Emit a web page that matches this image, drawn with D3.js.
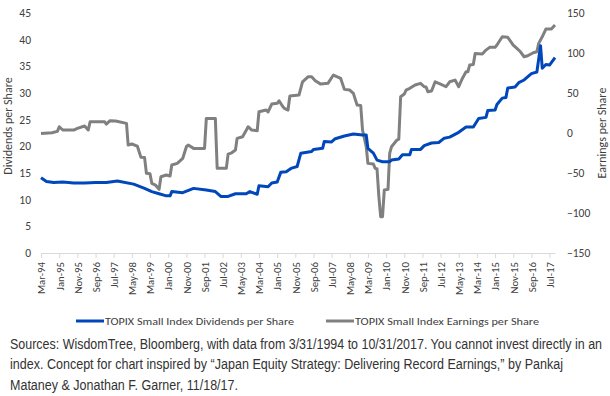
<!DOCTYPE html>
<html>
<head>
<meta charset="utf-8">
<script src="https://cdn.jsdelivr.net/npm/d3@7"></script>
<style>
  html, body { margin: 0; padding: 0; background: #fff; }
  #chart-area { width: 610px; height: 396px; }
  text { font-family: Carlito, Lato, "Open Sans", sans-serif; fill: #404040; }
  .source { font-family: "Liberation Sans", Arial, sans-serif; fill: #333; }
</style>
</head>
<body>
<div id="chart-area"></div>
<script>
// values (month, value)
const divDates = ['1994-03','1994-06','1994-10','1995-03','1995-09','1996-03','1996-09','1997-03','1997-09','1998-06','1998-12','1999-04','1999-08','1999-12','2000-02','2000-03','2000-09','2001-03','2001-10','2002-03','2002-06','2002-10','2003-02','2003-08','2003-10','2004-02','2004-03','2004-08','2004-10','2005-01','2005-03','2005-06','2005-09','2005-12','2006-02','2006-08','2006-09','2007-02','2007-03','2007-07','2007-09','2008-02','2008-07','2008-12','2009-02','2009-03','2009-06','2009-08','2009-11','2010-03','2010-04','2010-08','2010-10','2011-02','2011-03','2011-08','2011-10','2012-02','2012-06','2012-09','2012-12','2013-05','2013-09','2014-01','2014-04','2014-08','2014-09','2015-01','2015-02','2015-05','2015-07','2015-08','2015-12','2016-02','2016-05','2016-09','2016-12','2017-02','2017-03','2017-05','2017-07','2017-10'];
const divValues = [14.1,13.4,13.2,13.3,13.1,13.1,13.2,13.2,13.5,12.9,12.1,11.5,11.1,10.7,10.7,11.5,11.3,12.1,11.8,11.5,10.6,10.6,11.1,11.1,11.5,11.0,12.6,12.4,13.1,13.3,15.1,15.2,15.9,16.2,18.7,19.0,19.4,19.6,20.9,20.8,21.4,21.9,22.3,22.1,22.1,19.6,18.7,17.4,17.1,17.1,17.4,17.6,18.4,18.4,19.4,19.4,20.1,20.6,20.7,21.5,21.7,22.6,23.6,23.6,25.2,25.4,26.7,26.8,27.8,29.0,29.1,30.9,31.1,31.9,32.4,33.6,33.9,38.8,34.6,35.3,35.2,36.6];

const epsDates = ['1994-03','1994-09','1994-12','1995-01','1995-03','1995-09','1995-11','1996-03','1996-05','1996-06','1997-02','1997-03','1997-05','1997-08','1998-02','1998-03','1998-05','1998-08','1998-10','1998-12','1999-01','1999-03','1999-04','1999-06','1999-08','1999-09','1999-12','2000-02','2000-03','2000-06','2000-09','2000-11','2000-12','2001-03','2001-09','2001-10','2002-03','2002-04','2002-09','2002-10','2002-12','2003-02','2003-03','2003-06','2003-08','2003-09','2003-11','2004-02','2004-03','2004-07','2004-08','2004-10','2005-01','2005-02','2005-04','2005-05','2005-07','2005-08','2006-01','2006-03','2006-06','2006-08','2006-10','2007-01','2007-05','2007-08','2007-12','2008-02','2008-05','2008-07','2008-09','2008-11','2008-12','2009-02','2009-03','2009-06','2009-07','2009-08','2009-09','2009-10','2009-11','2009-12','2010-02','2010-03','2010-04','2010-07','2010-08','2010-09','2010-11','2010-12','2011-02','2011-05','2011-08','2011-10','2011-11','2011-12','2012-02','2012-04','2012-07','2012-10','2012-12','2013-03','2013-05','2013-07','2013-09','2013-10','2013-11','2014-01','2014-02','2014-06','2014-08','2014-10','2015-01','2015-02','2015-05','2015-08','2015-11','2016-01','2016-03','2016-05','2016-07','2016-10','2016-12','2017-01','2017-03','2017-05','2017-08','2017-10'];
const epsValues = [-1,0,1.7,7.5,3.4,3.4,5.5,8.4,3.4,13.7,13.7,10.8,15,14.6,11.7,-15.3,-14,-16.6,-30.7,-31,-50.6,-51,-63.1,-65.2,-70.6,-54.9,-52.7,-54,-40.3,-38.2,-31.9,-17.4,-15.3,-19.5,-19.5,17.9,17.9,-44.4,-44.4,-26.6,-25,-21.6,-7.0,-5.0,3,7.5,3.4,2.5,26.2,28.3,26,35.8,36.7,39.9,33,30.4,28.3,45.8,47.0,63.6,69.8,69.8,64.8,60.7,61.6,72.0,67.8,54.1,53.2,49.1,34.5,34,3.4,-17.4,-38.2,-39.0,-44.4,-45,-79.8,-104.7,-104.7,-71.5,-70.6,-25.7,-17.4,-9.1,-8,44.9,48.3,53.2,55.4,59.5,61.6,57.4,57,51.1,52,63.6,60.7,57.4,63.6,65.7,57.4,67.8,76.1,76,84.4,85,99.0,98.1,103.1,106.5,106.5,109.4,119.7,119.0,109.4,105.2,101.0,94.8,96,99.8,101,111.5,119.7,129.3,129.3,134.3];

const xTickLabels = ['Mar-94','Jan-95','Nov-95','Sep-96','Jul-97','May-98','Mar-99','Jan-00','Nov-00','Sep-01','Jul-02','May-03','Mar-04','Jan-05','Nov-05','Sep-06','Jul-07','May-08','Mar-09','Jan-10','Nov-10','Sep-11','Jul-12','May-13','Mar-14','Jan-15','Nov-15','Sep-16','Jul-17'];
const divTicks = [0,5,10,15,20,25,30,35,40,45];
const epsTicks = [-150,-100,-50,0,50,100,150];

const seriesNames = ['TOPIX Small Index Dividends per Share', 'TOPIX Small Index Earnings per Share'];
const sourceLines = [
    'Sources: WisdomTree, Bloomberg, with data from 3/31/1994 to 10/31/2017. You cannot invest directly in an',
    'index. Concept for chart inspired by \u201cJapan Equity Strategy: Delivering Record Earnings,\u201d by Pankaj',
    'Mataney & Jonathan F. Garner, 11/18/17.'
];

const BLUE = '#0047bb';
const GRAY = '#808080';

const parseMonth = d3.timeParse('%Y-%m');
const parseTick = d3.timeParse('%b-%y');

const divData = divDates.map((d, i) => ({date: parseMonth(d), value: divValues[i]}));
const epsData = epsDates.map((d, i) => ({date: parseMonth(d), value: epsValues[i]}));
const tickDates = xTickLabels.map(parseTick);

const svg = d3.select('#chart-area').append('svg')
    .attr('width', 610)
    .attr('height', 396);

const xScale = d3.scaleTime()
    .domain([parseMonth('1994-03'), parseMonth('2017-10')])
    .range([41, 555]);

const yLeft = d3.scaleLinear().domain([0, 45]).range([253, 12.7]);
const yRight = d3.scaleLinear().domain([-150, 150]).range([253, 12.5]);

// x axis
const xAxisGroup = svg.append('g')
    .attr('class', 'x-axis')
    .attr('transform', 'translate(0, 253)')
    .call(d3.axisBottom(xScale)
        .tickValues(tickDates)
        .tickSize(5)
        .tickSizeOuter(0)
        .tickFormat(d3.timeFormat('%b-%y')));
xAxisGroup.select('.domain').attr('stroke', '#d9d9d9');
xAxisGroup.selectAll('.tick line').attr('stroke', '#d9d9d9');
xAxisGroup.selectAll('.tick text')
    .attr('transform', 'rotate(-90)')
    .attr('text-anchor', 'end')
    .attr('x', -9)
    .attr('y', 0)
    .attr('dy', '0.35em')
    .style('font-size', '10.8px')
    .attr('fill', '#404040');

// left axis
const leftAxis = svg.append('g')
    .attr('transform', 'translate(41, 0)')
    .call(d3.axisLeft(yLeft).tickValues(divTicks).tickSize(0).tickPadding(10));
leftAxis.select('.domain').remove();
leftAxis.selectAll('text').style('font-size', '11.5px').attr('fill', '#404040');

// right axis
const rightAxis = svg.append('g')
    .attr('transform', 'translate(555, 0)')
    .call(d3.axisRight(yRight).tickValues(epsTicks).tickSize(0).tickPadding(12));
rightAxis.select('.domain').remove();
rightAxis.selectAll('text').style('font-size', '11.5px').attr('fill', '#404040');

// axis titles
svg.append('text')
    .attr('transform', 'translate(12, 126) rotate(-90)')
    .attr('text-anchor', 'middle')
    .style('font-size', '12px')
    .text('Dividends per Share');

svg.append('text')
    .attr('transform', 'translate(606, 133) rotate(-90)')
    .attr('text-anchor', 'middle')
    .style('font-size', '12px')
    .text('Earnings per Share');

// lines
const divLine = d3.line().x(d => xScale(d.date)).y(d => yLeft(d.value));
const epsLine = d3.line().x(d => xScale(d.date)).y(d => yRight(d.value));

svg.append('path')
    .datum(epsData)
    .attr('fill', 'none')
    .attr('stroke', GRAY)
    .attr('stroke-width', 3)
    .attr('stroke-linejoin', 'round')
    .attr('d', epsLine);

svg.append('path')
    .datum(divData)
    .attr('fill', 'none')
    .attr('stroke', BLUE)
    .attr('stroke-width', 3)
    .attr('stroke-linejoin', 'round')
    .attr('d', divLine);

// legend
const legendItems = [
    {name: seriesNames[0], color: BLUE, x: 76, w: 189},
    {name: seriesNames[1], color: GRAY, x: 326, w: 184}
];
legendItems.forEach(item => {
    const row = svg.append('g').attr('transform', `translate(${item.x}, 321)`);
    row.append('line')
        .attr('x1', 0).attr('x2', 28)
        .attr('stroke', item.color)
        .attr('stroke-width', 3);
    row.append('text')
        .attr('x', 29)
        .attr('y', 4)
        .attr('textLength', item.w)
        .attr('lengthAdjust', 'spacingAndGlyphs')
        .style('font-size', '10.5px')
        .text(item.name);
});

// source note: narrow font size, stretched vertically to match the reference
const sourceWidths = [592, 553, 228];
sourceLines.forEach((line, i) => {
    svg.append('text')
        .attr('class', 'source')
        .attr('transform', `translate(10, ${349 + i * 20.3}) scale(1, 1.16)`)
        .attr('textLength', sourceWidths[i])
        .attr('lengthAdjust', 'spacingAndGlyphs')
        .style('font-size', '12px')
        .text(line);
});
</script>
</body>
</html>
